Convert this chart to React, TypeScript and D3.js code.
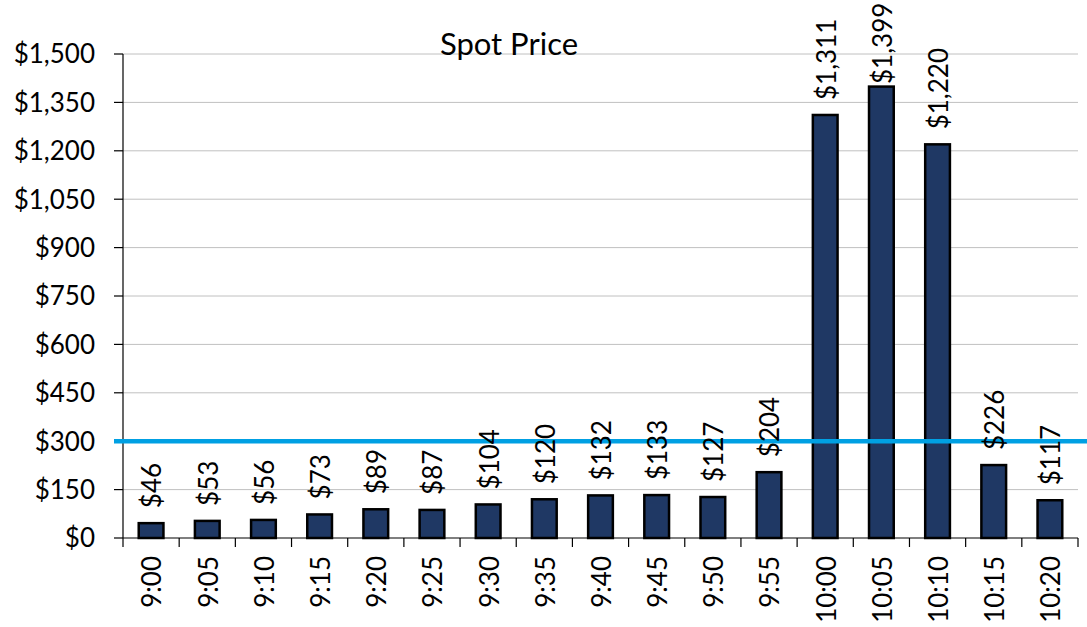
import React from 'react';
import * as d3 from 'd3';

const times = ['9:00', '9:05', '9:10', '9:15', '9:20', '9:25', '9:30', '9:35', '9:40', '9:45', '9:50', '9:55', '10:00', '10:05', '10:10', '10:15', '10:20'];
const prices = [46, 53, 56, 73, 89, 87, 104, 120, 132, 133, 127, 204, 1311, 1399, 1220, 226, 117];
const yTicks = [0, 150, 300, 450, 600, 750, 900, 1050, 1200, 1350, 1500];
const threshold = 300;

const W = 1087;
const H = 627;
const margin = { top: 54, right: 9, bottom: 89, left: 123 };
const FONT = 'Lato, "Open Sans", sans-serif';

const fmt = (v: number) => '$' + d3.format(',')(v);

const App: React.FC = () => {
  const x = d3.scaleBand<string>()
    .domain(times)
    .range([margin.left, W - margin.right])
    .paddingInner(0.56)
    .paddingOuter(0.28);

  const y = d3.scaleLinear()
    .domain([0, 1500])
    .range([H - margin.bottom, margin.top]);

  const x0 = margin.left;
  const x1 = W - margin.right;
  const step = x.step();
  const y0 = y(0);

  return (
    <div style={{ position: 'absolute', left: 0, top: 0 }}>
      <svg width={W} height={H} style={{ display: 'block', background: '#fff' }} fontFamily={FONT}>
        {/* gridlines */}
        {yTicks.filter((t) => t > 0).map((t) => (
          <line key={'g' + t} x1={x0} x2={x1} y1={y(t)} y2={y(t)} stroke="#c0c0c0" strokeWidth={1} />
        ))}

        {/* y axis */}
        <line x1={x0} x2={x0} y1={y(1500)} y2={y0} stroke="#000" strokeWidth={1.2} />
        {yTicks.map((t) => (
          <g key={'y' + t}>
            <line x1={x0 - 9} x2={x0} y1={y(t)} y2={y(t)} stroke="#000" strokeWidth={1.2} />
            <text x={95} y={y(t)} dy="0.36em" textAnchor="end" fontSize={26} fill="#000">{fmt(t)}</text>
          </g>
        ))}

        {/* x axis */}
        <line x1={x0} x2={x1} y1={y0} y2={y0} stroke="#000" strokeWidth={1.2} />
        {d3.range(times.length + 1).map((i) => (
          <line key={'xt' + i} x1={x0 + i * step} x2={x0 + i * step} y1={y0} y2={y0 + 9} stroke="#000" strokeWidth={1.2} />
        ))}
        {times.map((t) => {
          const cx = (x(t) ?? 0) + x.bandwidth() / 2;
          return (
            <text key={'xl' + t} transform={`translate(${cx + 1},${y0 + 18}) rotate(-90)`} textAnchor="end" dy="0.36em" fontSize={26} fill="#000">{t}</text>
          );
        })}

        {/* bars */}
        {prices.map((v, i) => (
          <rect key={'b' + i} x={x(times[i])} y={y(v)} width={x.bandwidth()} height={y0 - y(v)} fill="#1f3864" stroke="#000" strokeWidth={2.5} />
        ))}

        {/* threshold line */}
        <line x1={x0 - 9} x2={W} y1={y(threshold)} y2={y(threshold)} stroke="#00a0e3" strokeWidth={4.5} />

        {/* data labels */}
        {prices.map((v, i) => {
          const cx = (x(times[i]) ?? 0) + x.bandwidth() / 2;
          const ly = Math.max(y(v) - 15, 84);
          return (
            <text key={'l' + i} transform={`translate(${cx + 1},${ly}) rotate(-90)`} textAnchor="start" dy="0.36em" fontSize={26} fill="#000">{fmt(v)}</text>
          );
        })}

        <text x={509} y={55} textAnchor="middle" fontSize={31} fill="#000">Spot Price</text>
      </svg>
    </div>
  );
};

export default App;
